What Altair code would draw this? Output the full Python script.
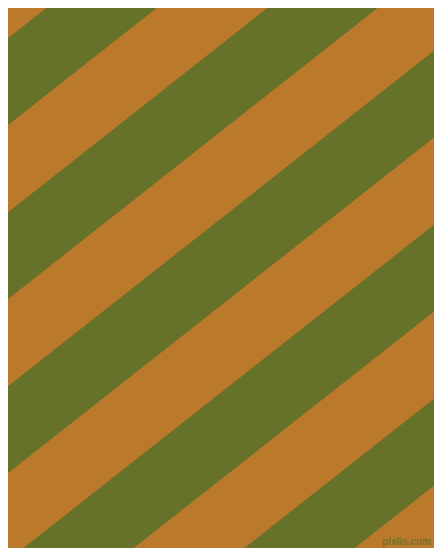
import altair as alt
import pandas as pd

# Stripe boundaries: y-intercept (px, at x=0, y downward) of each boundary line
intercepts = [-42.5, 44.5, 131.5, 218.5, 305.5, 392.5, 479.5, 566.5, 653.5, 740.5, 827.5, 914.5, 1001.5]
slope = 348 / 442          # drop of each boundary per pixel to the right
band_colors = ["orange", "green"]  # colour of the stripe that starts at each intercept (alternating)
x_ends = [0, 442]
palette_names = ["orange", "green"]
palette_hex = ["#BA792B", "#66722A"]
watermark = "pixlis.com"

rows = []
for i in range(len(intercepts) - 1):
    for x in x_ends:
        rows.append({
            "stripe": i,
            "band": band_colors[i % 2],
            "x": x,
            "y": intercepts[i] - slope * x,
            "y2": intercepts[i + 1] - slope * x,
        })
df = pd.DataFrame(rows)

W, H = 426, 540
xs = alt.Scale(domain=[8, 434], nice=False, zero=False)
ys = alt.Scale(domain=[8, 548], nice=False, zero=False, reverse=True)

stripes = alt.Chart(df).mark_area(clip=True, interpolate="linear").encode(
    x=alt.X("x:Q", scale=xs, axis=None),
    y=alt.Y("y:Q", scale=ys, axis=None),
    y2="y2:Q",
    color=alt.Color("band:N", scale=alt.Scale(domain=palette_names, range=palette_hex), legend=None),
    detail="stripe:N",
)

text_df = pd.DataFrame({"x": [431], "y": [545], "label": [watermark]})
mark_text = alt.Chart(text_df).mark_text(
    align="right", baseline="alphabetic", font="Liberation Sans", fontSize=10,
    fontWeight="bold", color="#66722A", opacity=0.85,
).encode(
    x=alt.X("x:Q", scale=xs, axis=None),
    y=alt.Y("y:Q", scale=ys, axis=None),
    text="label:N",
)

chart = alt.layer(stripes, mark_text).properties(
    width=W, height=H, padding=0, autosize=alt.AutoSizeParams(type="none"),
    background="#BA792B",
).configure_view(stroke=None)

chart.save("out.html", embed_options={"renderer": "svg", "actions": False})
